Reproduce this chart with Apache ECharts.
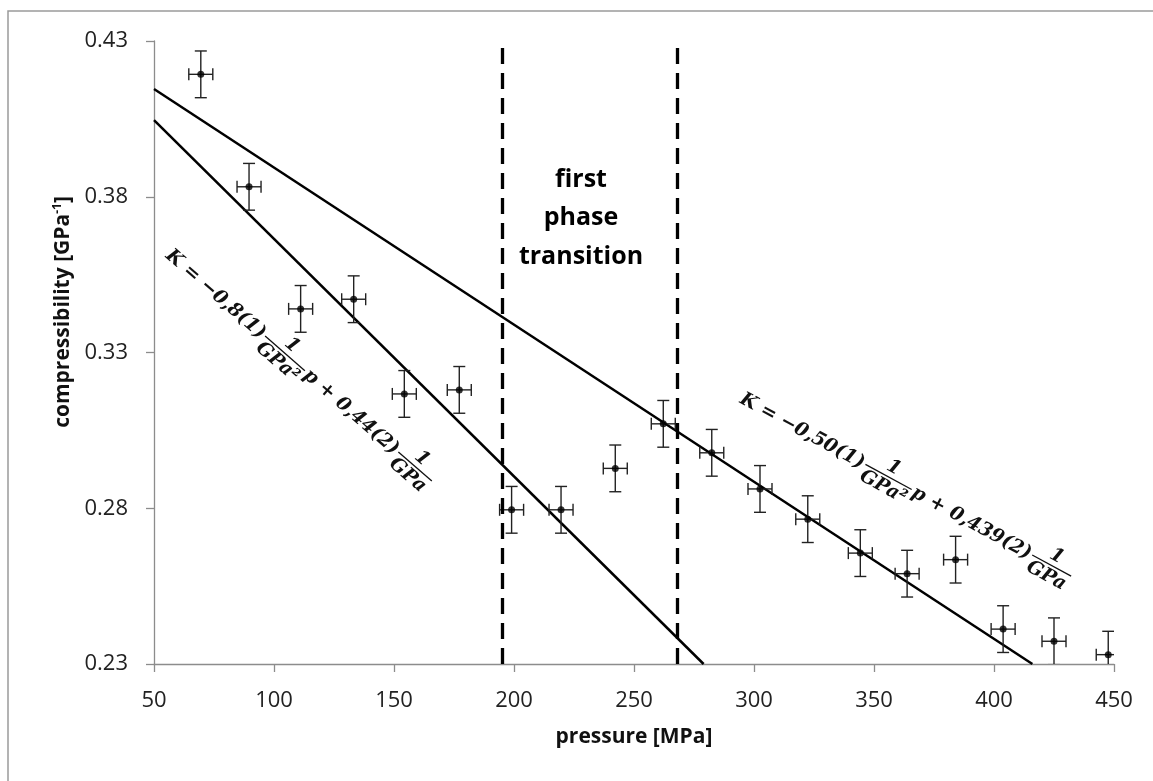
<!DOCTYPE html>
<html>
<head>
<meta charset="utf-8">
<script src="https://cdn.jsdelivr.net/npm/echarts@6/dist/echarts.min.js"></script>
<style>
  html, body { margin: 0; padding: 0; background: #fff; }
  #chart { width: 1153px; height: 781px; }
</style>
</head>
<body>
<div id="chart"></div>
<script>
// measured points (pressure in MPa, compressibility in 1/GPa)
const pressure = [69.5, 89.6, 111.1, 133.2, 154.3, 177.2, 199.0, 219.6, 242.2, 262.2, 282.4, 302.5, 322.4, 344.3, 363.8, 384.0, 403.8, 425.0, 447.6];
const compressibility = [0.4193, 0.3832, 0.3440, 0.3471, 0.3167, 0.3180, 0.2795, 0.2795, 0.2928, 0.3071, 0.2978, 0.2862, 0.2765, 0.2656, 0.2590, 0.2635, 0.2412, 0.2373, 0.2330];
const pressureErr = [5, 5, 5, 5, 5, 5, 5, 5, 5, 5, 5, 5, 5, 5, 5, 5, 5, 5, 5];
const compressibilityErr = [0.0075, 0.0075, 0.0075, 0.0075, 0.0075, 0.0075, 0.0075, 0.0075, 0.0075, 0.0075, 0.0075, 0.0075, 0.0075, 0.0075, 0.0075, 0.0075, 0.0075, 0.0075, 0.0075];

// linear fits (end points)
const fitLowP = [50, 279];
const fitLowK = [0.4046, 0.23];
const fitHighP = [50, 416];
const fitHighK = [0.4146, 0.23];

// phase transition borders
const transitionP = [195, 268];

// axes
const xTicks = [50, 100, 150, 200, 250, 300, 350, 400, 450];
const yTicks = [0.23, 0.28, 0.33, 0.38, 0.43];

const LABEL_FONT = 'Open Sans';
const EQ_SIZE = 19;
const FR_SIZE = 19;
const eqFont = (s) => 'italic bold ' + s + 'px "DejaVu Serif"';

const ctx = document.createElement('canvas').getContext('2d');
function textWidth(str, size) {
  ctx.font = eqFont(size);
  return ctx.measureText(str).width;
}

// builds a rotated equation with stacked fractions
function equation(x0, y0, angleDeg, parts) {
  const children = [];
  let x = 0;
  parts.forEach(p => {
    if (typeof p === 'string') {
      children.push({
        type: 'text', x: x, y: 0,
        style: { text: p, font: eqFont(EQ_SIZE), fill: '#111', align: 'left', verticalAlign: 'middle' }
      });
      x += textWidth(p, EQ_SIZE);
    } else {
      x += 2;
      const w = Math.max(textWidth(p.num, FR_SIZE), textWidth(p.den, FR_SIZE)) + 2;
      children.push({
        type: 'line',
        shape: { x1: x, y1: -1, x2: x + w, y2: -1 },
        style: { stroke: '#111', lineWidth: 1.3 }
      });
      children.push({
        type: 'text', x: x + w / 2, y: -2,
        style: { text: p.num, font: eqFont(FR_SIZE), fill: '#111', align: 'center', verticalAlign: 'bottom' }
      });
      children.push({
        type: 'text', x: x + w / 2, y: 1,
        style: { text: p.den, font: eqFont(FR_SIZE), fill: '#111', align: 'center', verticalAlign: 'top' }
      });
      x += w + 2;
    }
  });
  return { type: 'group', x: x0, y: y0, rotation: -angleDeg * Math.PI / 180, children: children };
}

const points = pressure.map((p, i) => [p, compressibility[i], pressureErr[i], compressibilityErr[i]]);

const chart = echarts.init(document.getElementById('chart'), null, { renderer: 'canvas' });

const option = {
  backgroundColor: '#fff',
  animation: false,
  grid: { left: 154, right: 39, top: 41, bottom: 117 },
  xAxis: {
    type: 'value',
    min: xTicks[0],
    max: xTicks[xTicks.length - 1],
    interval: 50,
    axisLine: { show: true, lineStyle: { color: '#8c8c8c', width: 1.3 } },
    axisTick: { show: true, length: 8, lineStyle: { color: '#8c8c8c', width: 1.3 } },
    axisLabel: { color: '#222', fontSize: 22, fontFamily: LABEL_FONT, margin: 26 },
    splitLine: { show: false }
  },
  yAxis: {
    type: 'value',
    min: yTicks[0],
    max: yTicks[yTicks.length - 1],
    interval: 0.05,
    axisLine: { show: true, lineStyle: { color: '#8c8c8c', width: 1.3 } },
    axisTick: { show: true, length: 8, lineStyle: { color: '#8c8c8c', width: 1.3 } },
    axisLabel: {
      color: '#222', fontSize: 22, fontFamily: LABEL_FONT, margin: 26,
      formatter: (v) => v.toFixed(2)
    },
    splitLine: { show: false }
  },
  series: [
    {
      name: 'fit low',
      type: 'line',
      data: fitLowP.map((p, i) => [p, fitLowK[i]]),
      symbol: 'none',
      lineStyle: { color: '#000', width: 2.5 },
      clip: true,
      z: 3
    },
    {
      name: 'fit high',
      type: 'line',
      data: fitHighP.map((p, i) => [p, fitHighK[i]]),
      symbol: 'none',
      lineStyle: { color: '#000', width: 2.5 },
      clip: true,
      z: 3
    },
    {
      name: 'transition',
      type: 'line',
      data: [],
      markLine: {
        silent: true,
        symbol: 'none',
        label: { show: false },
        lineStyle: { color: '#000', width: 3.3, type: [16, 9] },
        data: transitionP.map(p => [{ coord: [p, yTicks[0]] }, { coord: [p, yTicks[yTicks.length - 1]] }])
      }
    },
    {
      name: 'error bars',
      type: 'custom',
      data: points,
      encode: { x: 0, y: 1 },
      clip: true,
      z: 4,
      renderItem: (params, api) => {
        const x = api.value(0), y = api.value(1), ex = api.value(2), ey = api.value(3);
        const top = api.coord([x, y + ey]);
        const bot = api.coord([x, y - ey]);
        const left = api.coord([x - ex, y]);
        const right = api.coord([x + ex, y]);
        const cap = 6;
        const st = { stroke: '#222', lineWidth: 1.4 };
        const seg = (x1, y1, x2, y2) => ({ type: 'line', shape: { x1, y1, x2, y2 }, style: st });
        return {
          type: 'group',
          children: [
            seg(top[0], top[1], bot[0], bot[1]),
            seg(top[0] - cap, top[1], top[0] + cap, top[1]),
            seg(bot[0] - cap, bot[1], bot[0] + cap, bot[1]),
            seg(left[0], left[1], right[0], right[1]),
            seg(left[0], left[1] - cap, left[0], left[1] + cap),
            seg(right[0], right[1] - cap, right[0], right[1] + cap)
          ]
        };
      }
    },
    {
      name: 'points',
      type: 'scatter',
      data: pressure.map((p, i) => [p, compressibility[i]]),
      symbol: 'circle',
      symbolSize: 7,
      itemStyle: { color: '#000' },
      z: 5
    }
  ],
  graphic: [
    {
      type: 'rect', silent: true, z: -10,
      shape: { x: 8, y: 11, width: 1300, height: 900 },
      style: { fill: 'none', stroke: '#9a9a9a', lineWidth: 1.5 }
    },
    {
      type: 'text', x: 63, y: 312, rotation: Math.PI / 2,
      style: {
        text: 'compressibility [GPa{sup|-1}]',
        font: 'bold 21px "Open Sans"',
        fill: '#111', align: 'center', verticalAlign: 'middle',
        rich: { sup: { font: 'bold 12px "Open Sans"', fill: '#111', verticalAlign: 'top', lineHeight: 22 } }
      }
    },
    {
      type: 'text', x: 634, y: 737,
      style: {
        text: 'pressure [MPa]', font: 'bold 21px "Open Sans"',
        fill: '#111', align: 'center', verticalAlign: 'middle'
      }
    },
    {
      type: 'text', x: 581, y: 218,
      style: {
        text: 'first\nphase\ntransition', font: 'bold 25px "Open Sans"',
        fill: '#000', align: 'center', verticalAlign: 'middle', lineHeight: 38.5
      }
    },
    equation(168, 253, 41, ['K = \u22120,8(1)', { num: '1', den: 'GPa\u00b2' }, 'p + 0,44(2)', { num: '1', den: 'GPa' }]),
    equation(741, 398, 28.5, ['K = \u22120,50(1)', { num: '1', den: 'GPa\u00b2' }, 'p + 0,439(2)', { num: '1', den: 'GPa' }])
  ]
};

chart.setOption(option);
</script>
</body>
</html>
